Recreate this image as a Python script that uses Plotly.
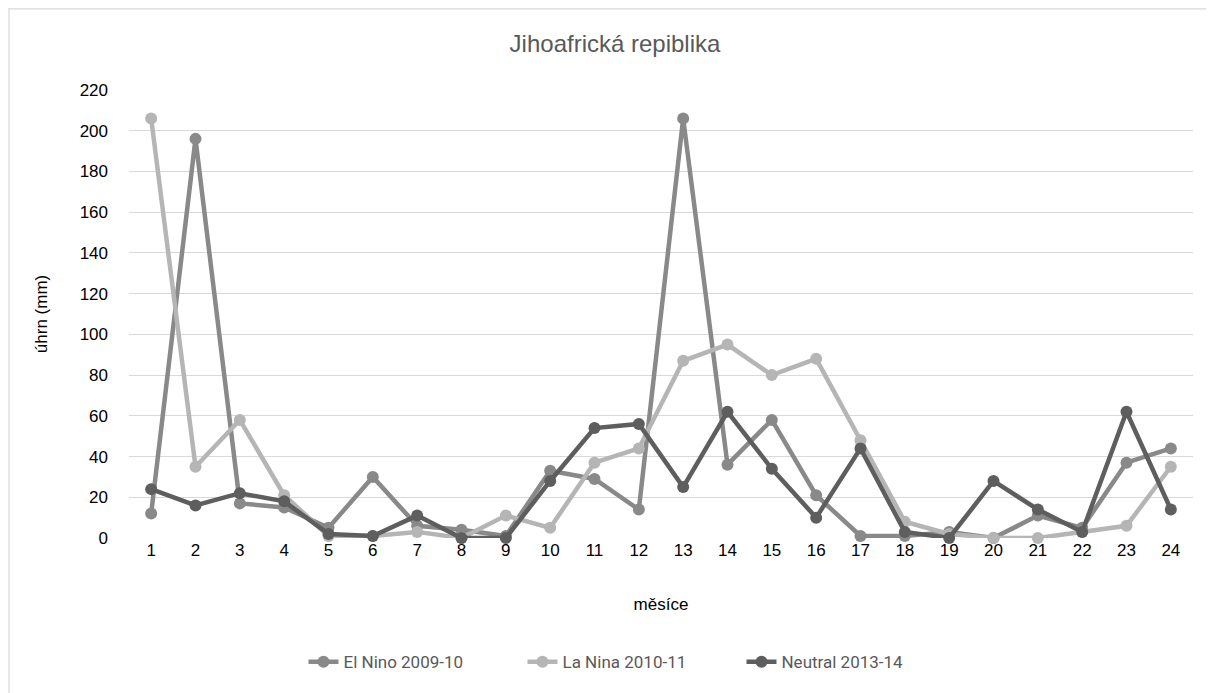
import plotly.graph_objects as go

months = list(range(1, 25))
el_nino = [12, 196, 17, 15, 5, 30, 6, 4, 1, 33, 29, 14, 206, 36, 58, 21, 1, 1, 3, 0, 11, 5, 37, 44]
la_nina = [206, 35, 58, 21, 1, 1, 3, 0, 11, 5, 37, 44, 87, 95, 80, 88, 48, 8, 2, 0, 0, 3, 6, 35]
neutral = [24, 16, 22, 18, 2, 1, 11, 0, 0, 28, 54, 56, 25, 62, 34, 10, 44, 3, 0, 28, 14, 3, 62, 14]

series = [
    ("El Nino 2009-10", el_nino, "#898989"),
    ("La Nina 2010-11", la_nina, "#b5b5b5"),
    ("Neutral 2013-14", neutral, "#5e5e5e"),
]

fig = go.Figure()
for name, vals, color in series:
    fig.add_trace(go.Scatter(
        x=[str(m) for m in months], y=vals, name=name, mode="lines+markers",
        line=dict(color=color, width=4.5),
        marker=dict(color=color, size=12),
        cliponaxis=False,
    ))

font = "Liberation Sans, Arial, sans-serif"
fig.update_layout(
    width=1214, height=693,
    margin=dict(l=121, r=29, t=82, b=163, autoexpand=False),
    paper_bgcolor="white", plot_bgcolor="white",
    font=dict(family=font, size=17, color="#000000"),
    title=dict(text="Jihoafrická repiblika", x=0.5, xanchor="center", y=0.948, yanchor="middle",
               font=dict(size=24, color="#595959", family=font)),
    xaxis=dict(type="category", range=[-0.5, 23.5], showgrid=False, zeroline=False, showline=False,
               ticks="", tickfont=dict(size=17, color="#000000"), automargin=False,
               title=dict(text="měsíce", font=dict(size=17, color="#000000"), standoff=39)),
    yaxis=dict(range=[0, 220], dtick=20, showgrid=True, gridcolor="#d9d9d9", gridwidth=1.3,
               zeroline=False, showline=False, ticks="", tickfont=dict(size=17, color="#000000"),
               ticklabelstandoff=20, automargin=False,
               title=dict(text="úhrn (mm)", font=dict(size=17, color="#000000"), standoff=27)),
    legend=dict(orientation="h", x=0.164, xanchor="left", y=-0.277, yanchor="middle",
                entrywidth=174, entrywidthmode="pixels",
                font=dict(size=17, color="#595959", family="Roboto, sans-serif"), tracegroupgap=0),
    shapes=[
        dict(type="line", xref="paper", yref="paper", x0=-0.1137, x1=1.05, y0=1.181, y1=1.181,
             line=dict(color="#d9d9d9", width=1.2)),
        dict(type="line", xref="paper", yref="paper", x0=-0.1128, x1=-0.1128, y0=1.181, y1=-0.4,
             line=dict(color="#d9d9d9", width=1.2)),
    ],
)

fig.write_html("out.html")
